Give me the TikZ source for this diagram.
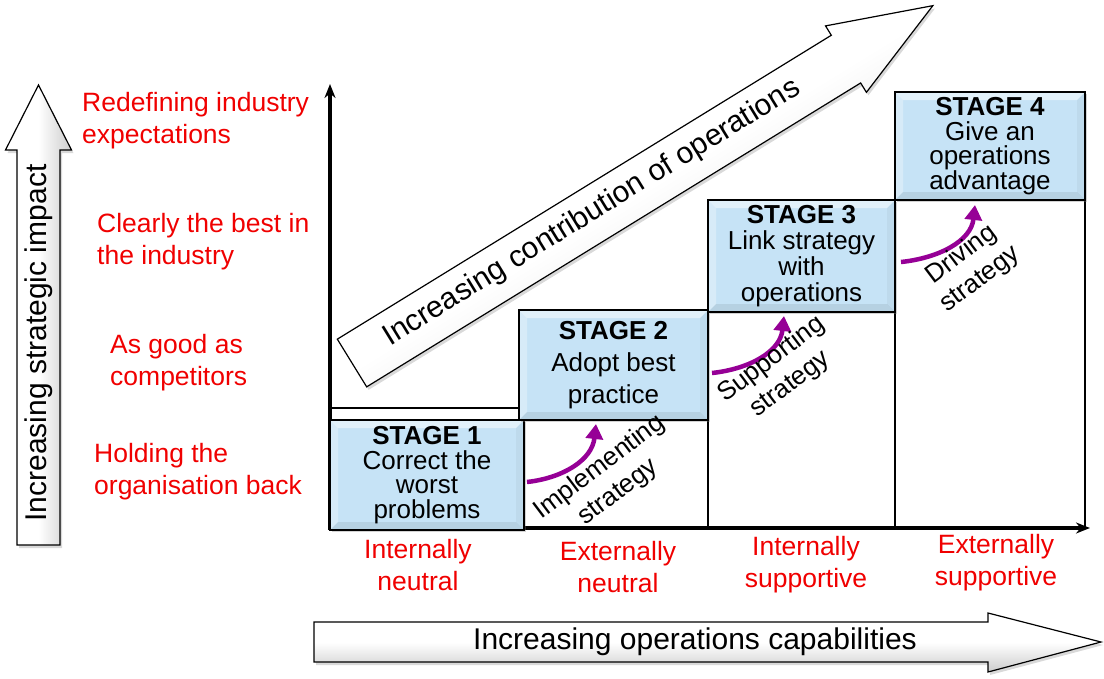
\documentclass[tikz,border=0pt]{standalone}
\usepackage{fontspec}
\setmainfont{Liberation Sans}
\usetikzlibrary{arrows.meta,shadows,calc}
\definecolor{stageblue}{RGB}{198,227,246}
\definecolor{labred}{RGB}{240,0,0}
\definecolor{purp}{RGB}{150,0,150}
\tikzset{
  stagebox/.style={draw=black, line width=1.5pt, fill=stageblue, inner sep=0pt, align=center,
    drop shadow={opacity=0.35, shadow xshift=2pt, shadow yshift=-2pt},
    path picture={
      \fill[white,opacity=0.5] (path picture bounding box.north west) -- (path picture bounding box.north east)
        -- ([shift={(-8pt,-8pt)}]path picture bounding box.north east) -- ([shift={(8pt,-8pt)}]path picture bounding box.north west) -- cycle;
      \fill[white,opacity=0.3] (path picture bounding box.north west) -- (path picture bounding box.south west)
        -- ([shift={(8pt,8pt)}]path picture bounding box.south west) -- ([shift={(8pt,-8pt)}]path picture bounding box.north west) -- cycle;
      \fill[black,opacity=0.08] (path picture bounding box.south west) -- (path picture bounding box.south east)
        -- ([shift={(-8pt,8pt)}]path picture bounding box.south east) -- ([shift={(8pt,8pt)}]path picture bounding box.south west) -- cycle;
      \fill[black,opacity=0.04] (path picture bounding box.north east) -- (path picture bounding box.south east)
        -- ([shift={(-8pt,8pt)}]path picture bounding box.south east) -- ([shift={(-8pt,-8pt)}]path picture bounding box.north east) -- cycle;
    }},
  colbox/.style={draw=black, line width=1.5pt, fill=white},
  axisline/.style={draw=black, line width=3.5pt, -{Stealth[length=14pt,width=11pt]}},
  bigarrow/.style={draw=black, line width=1.2pt, top color=white, bottom color=black!20, middle color=white,
    drop shadow={opacity=0.3, shadow xshift=2pt, shadow yshift=-3pt}},
  arrowtext/.style={inner sep=0pt, font=\fontsize{30}{34}\selectfont},
  redlab/.style={text=labred, inner sep=0pt, font=\fontsize{26.5}{32}\selectfont},
  strlab/.style={inner sep=0pt, align=center, rotate=37, font=\fontsize{26}{31}\selectfont},
  purparrow/.style={draw=purp, line width=4.5pt, -{Triangle[length=15pt,width=17pt]}},
}
\begin{document}
\begin{tikzpicture}[x=1pt,y=-1pt]
\useasboundingbox (0,0) rectangle (1104,678);

% columns
\draw[colbox] (330,408) rectangle (519,528);
\draw[colbox] (519,420) rectangle (708,528);
\draw[colbox] (708,312) rectangle (895,528);
\draw[colbox] (895,200) rectangle (1085,528);

% axes
\coordinate (origin) at (330,528);
\coordinate (ytip) at (330,84);
\coordinate (xtip) at (1090,528);
\draw[axisline] ([yshift=-2pt]origin) -- (ytip);
\draw[axisline] ([xshift=-1.7pt]origin) -- (xtip);

% stage boxes
\node[stagebox, minimum width=194pt, minimum height=110pt, font=\fontsize{26}{24.5}\selectfont] (s1) at (427,475)
  {\textbf{STAGE 1}\\Correct the\\worst\\problems};
\node[stagebox, minimum width=189pt, minimum height=110pt, font=\fontsize{26}{32}\selectfont] (s2) at (613.5,365)
  {\textbf{STAGE 2}\\Adopt best\\practice};
\node[stagebox, minimum width=187pt, minimum height=112pt, font=\fontsize{26}{26}\selectfont] (s3) at (801.5,256)
  {\textbf{STAGE 3}\\Link strategy\\with\\operations};
\node[stagebox, minimum width=190pt, minimum height=108pt, font=\fontsize{26}{24.5}\selectfont] (s4) at (990,146)
  {\textbf{STAGE 4}\\Give an\\operations\\advantage};

% purple arrows
\coordinate (p1a) at (527,482); \coordinate (p1b) at (596,424);
\coordinate (p2a) at (712,373); \coordinate (p2b) at (784,316);
\coordinate (p3a) at (901,262); \coordinate (p3b) at (975,205);
\draw[purparrow] (p1a) .. controls (563,478) and (592,460) .. (p1b);
\draw[purparrow] (p2a) .. controls (749,369) and (780,352) .. (p2b);
\draw[purparrow] (p3a) .. controls (939,258) and (971,241) .. (p3b);

% rotated labels
\node[strlab] (l1) at (609,480) {Implementing\\strategy};
\node[strlab] (l2) at (781,372) {Supporting\\strategy};
\node[strlab] (l3) at (971,267) {Driving\\strategy};

% diagonal arrow
\begin{scope}[shift={(352,363)}, rotate=31.6]
  \path[bigarrow, shading angle=31.6] (0,-28) -- (580,-28) -- (580,-39) -- (682,0) -- (580,39) -- (580,28) -- (0,28) -- cycle;
  \node[arrowtext, transform shape] (diag) at (283,-2) {Increasing contribution of operations};
\end{scope}

% vertical arrow
\begin{scope}[shift={(38.5,545)}, rotate=90]
  \path[bigarrow, shading angle=90] (0,-21.5) -- (395,-21.5) -- (395,-33) -- (460,0) -- (395,33) -- (395,21.5) -- (0,21.5) -- cycle;
  \node[arrowtext, transform shape] (vert) at (202,0) {Increasing strategic impact};
\end{scope}

% horizontal arrow
\path[bigarrow] (314,622) -- (988,622) -- (988,613) -- (1101,642) -- (988,672) -- (988,662) -- (314,662) -- cycle;
\node[arrowtext] (horiz) at (695,642) {Increasing operations capabilities};

% left red labels
\node[redlab, anchor=west, align=left] (r4) at (82,121) {Redefining industry\\expectations};
\node[redlab, anchor=west, align=left] (r3) at (97,242) {Clearly the best in\\the industry};
\node[redlab, anchor=west, align=left] (r2) at (110,363) {As good as\\competitors};
\node[redlab, anchor=west, align=left] (r1) at (94,472) {Holding the\\organisation back};

% bottom red labels
\node[redlab, align=center] (b1) at (418,565) {Internally\\neutral};
\node[redlab, align=center] (b2) at (618,567) {Externally\\neutral};
\node[redlab, align=center] (b3) at (806,565) {Internally\\supportive};
\node[redlab, align=center] (b4) at (996,563) {Externally\\supportive};
\end{tikzpicture}
\end{document}
